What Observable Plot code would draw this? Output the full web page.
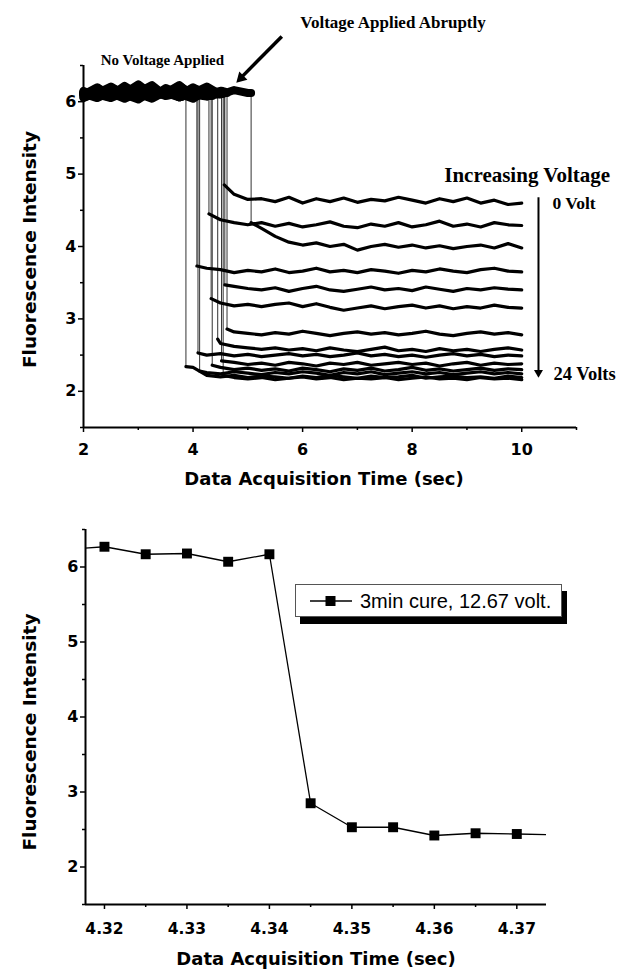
<!DOCTYPE html>
<html><head><meta charset="utf-8">
<script src="https://cdn.jsdelivr.net/npm/d3@7"></script>
<script src="https://cdn.jsdelivr.net/npm/@observablehq/plot@0.6"></script>
<style>
body{margin:0;background:#fff;}
#wrap{position:relative;width:621px;height:974px;overflow:hidden;background:#fff;}
#wrap > svg{display:block;overflow:visible;position:relative;}
.legend{position:absolute;left:295px;top:584px;width:267px;height:33px;border:1px solid #555;background:#fff;box-shadow:5px 7px 0 #000;box-sizing:border-box;}
.legend svg{position:absolute;left:0;top:0;}
.legend span{position:absolute;left:64px;top:5px;font-family:"Liberation Sans",Arial,sans-serif;font-size:20px;line-height:22px;color:#000;white-space:nowrap;}
</style></head><body><div id="wrap"></div>
<script>
// ---------- top chart data ----------
const gridTimes = [2,2.25,2.5,2.75,3,3.25,3.5,3.75,4,4.25,4.5,4.75,5,5.25,5.5,5.75,6,6.25,6.5,6.75,7,7.25,7.5,7.75,8,8.25,8.5,8.75,9,9.25,9.5,9.75,10];
const dropTimes  = [4.57,4.29,5.06,4.07,4.58,4.33,4.62,4.45,4.09,4.52,4.35,4.12,3.87,4.55];
const dropValues = [4.85,4.45,4.33,3.73,3.47,3.28,2.86,2.72,2.53,2.42,2.36,2.28,2.34,2.22];
const trace01 = [6.12,6.08,6.2,6.1,6.05,6.18,6.09,6.22,6.1,6.07,6.14,4.72,4.65,4.66,4.62,4.68,4.6,4.66,4.62,4.67,4.61,4.65,4.63,4.68,4.64,4.6,4.66,4.62,4.67,4.6,4.64,4.58,4.6];
const trace02 = [6.05,6.14,6.09,6.22,6.1,6.06,6.19,6.11,6.04,6.16,4.37,4.33,4.3,4.33,4.28,4.32,4.27,4.3,4.34,4.28,4.26,4.31,4.28,4.33,4.27,4.3,4.35,4.28,4.31,4.27,4.33,4.3,4.29];
const trace03 = [6.1,6.2,6.08,6.12,6.24,6.1,6.14,6.06,6.12,6.21,6.1,6.16,6.12,4.25,4.14,4.06,4.02,4.05,4.0,4.03,3.95,4.0,4.03,3.99,4.02,3.98,4.01,3.97,4.0,4.02,3.98,4.04,3.98];
const trace04 = [6.15,6.07,6.12,6.04,6.13,6.23,6.08,6.11,6.17,3.7,3.68,3.64,3.67,3.65,3.69,3.64,3.66,3.7,3.65,3.67,3.64,3.68,3.66,3.63,3.67,3.65,3.69,3.66,3.64,3.68,3.7,3.66,3.65];
const trace05 = [6.08,6.12,6.21,6.1,6.03,6.15,6.12,6.09,6.2,6.1,6.13,3.45,3.42,3.4,3.43,3.38,3.42,3.45,3.4,3.38,3.41,3.44,3.4,3.42,3.39,3.44,3.41,3.38,3.42,3.4,3.43,3.41,3.4];
const trace06 = [6.11,6.05,6.14,6.09,6.19,6.08,6.12,6.23,6.07,6.13,3.22,3.18,3.2,3.17,3.2,3.22,3.17,3.21,3.16,3.12,3.15,3.18,3.14,3.17,3.19,3.15,3.18,3.14,3.17,3.15,3.19,3.16,3.15];
const trace07 = [6.13,6.1,6.06,6.2,6.11,6.04,6.14,6.1,6.18,6.09,6.12,2.82,2.8,2.78,2.81,2.79,2.83,2.8,2.77,2.8,2.82,2.79,2.81,2.78,2.8,2.83,2.79,2.77,2.8,2.82,2.79,2.81,2.78];
const trace08 = [6.09,6.15,6.11,6.07,6.14,6.1,6.17,6.06,6.12,6.1,2.66,2.62,2.6,2.58,2.6,2.57,2.59,2.56,2.6,2.57,2.55,2.58,2.61,2.56,2.58,2.55,2.59,2.56,2.58,2.55,2.58,2.6,2.57];
const trace09 = [6.12,6.08,6.16,6.1,6.07,6.13,6.1,6.15,6.09,2.5,2.52,2.49,2.51,2.48,2.5,2.52,2.49,2.51,2.48,2.5,2.53,2.49,2.51,2.48,2.5,2.47,2.5,2.52,2.49,2.51,2.48,2.5,2.49];
const trace10 = [6.1,6.14,6.07,6.12,6.09,6.16,6.11,6.08,6.13,6.1,6.15,2.4,2.37,2.39,2.36,2.4,2.38,2.35,2.39,2.37,2.4,2.36,2.38,2.4,2.37,2.39,2.35,2.38,2.4,2.36,2.39,2.37,2.38];
const trace11 = [6.06,6.11,6.14,6.09,6.12,6.07,6.15,6.1,6.13,6.08,2.33,2.3,2.32,2.29,2.31,2.28,2.32,2.3,2.27,2.31,2.29,2.32,2.28,2.3,2.33,2.29,2.31,2.28,2.3,2.32,2.29,2.31,2.3];
const trace12 = [6.14,6.1,6.05,6.13,6.17,6.09,6.12,6.06,6.11,2.26,2.24,2.27,2.25,2.23,2.26,2.24,2.27,2.25,2.22,2.26,2.24,2.27,2.23,2.25,2.27,2.24,2.26,2.23,2.25,2.27,2.24,2.26,2.24];
const trace13 = [6.1,6.13,6.08,6.15,6.11,6.06,6.14,6.1,2.33,2.22,2.2,2.22,2.19,2.21,2.2,2.18,2.21,2.19,2.22,2.2,2.18,2.21,2.19,2.2,2.22,2.18,2.2,2.21,2.19,2.2,2.18,2.21,2.19];
const trace14 = [6.12,6.07,6.11,6.16,6.1,6.13,6.08,6.12,6.15,6.09,6.11,2.19,2.17,2.19,2.16,2.18,2.2,2.17,2.19,2.16,2.18,2.17,2.19,2.16,2.18,2.2,2.17,2.18,2.16,2.19,2.17,2.18,2.16];
const traces = [trace01,trace02,trace03,trace04,trace05,trace06,trace07,trace08,trace09,trace10,trace11,trace12,trace13,trace14];

const topYTicks = [2,3,4,5,6];
const topYMinor = [1.5,2.5,3.5,4.5,5.5,6.5];
const topXTicks = [2,4,6,8,10];
const topXMinor = [3,5,7,9,11];

// ---------- bottom chart data ----------
const zoomTimes  = [4.315,4.32,4.325,4.33,4.335,4.34,4.345,4.35,4.355,4.36,4.365,4.37,4.375];
const zoomValues = [6.23,6.27,6.17,6.18,6.07,6.17,2.85,2.53,2.53,2.42,2.45,2.44,2.43];
const zoomXTicks = [4.32,4.33,4.34,4.35,4.36,4.37];
const zoomXMinor = [4.325,4.335,4.345,4.355,4.365];
const zoomYTicks = [2,3,4,5,6];
const zoomYMinor = [1.5,2.5,3.5,4.5,5.5,6.5];
const legendLabel = "3min cure, 12.67 volt.";

// ---------- build rows ----------
const preRows = [], postRows = [], dropRows = [];
traces.forEach((vals, i) => {
  const td = dropTimes[i];
  let lastPre = vals[0];
  gridTimes.forEach((t, j) => { if (t < td) { preRows.push({trace: i, t, v: vals[j]}); lastPre = vals[j]; } });
  preRows.push({trace: i, t: td, v: lastPre});
  postRows.push({trace: i, t: td, v: dropValues[i]});
  gridTimes.forEach((t, j) => { if (t > td) postRows.push({trace: i, t, v: vals[j]}); });
  dropRows.push({t: td, v1: lastPre, v2: dropValues[i]});
});

const sansB = "DejaVu Sans";
const serif = "Liberation Serif";
const intFmt = d3.format("d");
const wrap = document.getElementById("wrap");

const topChart = Plot.plot({
  width: 621, height: 490,
  marginLeft: 83, marginRight: 45, marginTop: 65, marginBottom: 63,
  x: {domain: [2, 11], label: null},
  y: {domain: [1.5, 6.5], label: null},
  style: {background: "transparent", color: "#000", fontFamily: sansB, overflow: "visible"},
  marks: [
    Plot.ruleX(dropRows, {x: "t", y1: "v1", y2: "v2", stroke: "#333", strokeWidth: 1}),
    Plot.line(preRows, {x: "t", y: "v", z: "trace", stroke: "#000", strokeWidth: 8}),
    Plot.line(postRows, {x: "t", y: "v", z: "trace", stroke: "#000", strokeWidth: 3.2}),
    Plot.ruleX([2], {stroke: "#000", strokeWidth: 2}),
    Plot.ruleY([1.5], {stroke: "#000", strokeWidth: 2}),
    Plot.axisY(topYTicks, {tickSize: 5, tickPadding: 2, tickFormat: intFmt, fontSize: 16, fontWeight: "bold", fontFamily: sansB, strokeWidth: 1.5, label: null}),
    Plot.axisY(topYMinor, {tickSize: 3, tickFormat: () => "", strokeWidth: 1.5, label: null}),
    Plot.axisX(topXTicks, {tickSize: 5, tickPadding: 11, tickFormat: intFmt, fontSize: 16, fontWeight: "bold", fontFamily: sansB, strokeWidth: 1.5, label: null}),
    Plot.axisX(topXMinor, {tickSize: 3, tickFormat: () => "", strokeWidth: 1.5, label: null}),
    Plot.text(["Data Acquisition Time (sec)"], {frameAnchor: "bottom", textAnchor: "middle", dx: -6, dy: 57, fontSize: 18, fontWeight: "bold", fontFamily: sansB}),
    Plot.text(["Fluorescence Intensity"], {frameAnchor: "left", textAnchor: "middle", rotate: -90, dx: -53, dy: 3, fontSize: 18.5, fontWeight: "bold", fontFamily: sansB}),
    // annotations
    Plot.text(["Voltage Applied Abruptly"], {x: 7.65, y: 7.09, fontSize: 17, fontWeight: "bold", fontFamily: serif}),
    Plot.text(["No Voltage Applied"], {x: 3.44, y: 6.57, fontSize: 15, fontWeight: "bold", fontFamily: serif}),
    Plot.text(["Increasing Voltage"], {x: 10.1, y: 4.98, fontSize: 21, fontWeight: "bold", fontFamily: serif}),
    Plot.text(["0 Volt"], {x: 10.56, y: 4.6, textAnchor: "start", fontSize: 17.5, fontWeight: "bold", fontFamily: serif}),
    Plot.text(["24 Volts"], {x: 10.58, y: 2.24, textAnchor: "start", fontSize: 18.5, fontWeight: "bold", fontFamily: serif}),
    Plot.link([0], {x1: 5.62, y1: 6.9, x2: 4.9, y2: 6.35, stroke: "#000", strokeWidth: 3.5}),
    Plot.dot([0], {x: 4.875, y: 6.327, symbol: "triangle2", r: 5.5, fill: "#000", stroke: null, rotate: 225}),
    Plot.link([0], {x1: 10.306, y1: 4.68, x2: 10.306, y2: 2.28, stroke: "#000", strokeWidth: 2}),
    Plot.dot([0], {x: 10.306, y: 2.26, symbol: "triangle2", r: 4.3, fill: "#000", stroke: null, rotate: 180})
  ]
});
wrap.appendChild(topChart);

const zoomRows = zoomTimes.map((t, i) => ({t, v: zoomValues[i]}));
const zoomDomain = [4.3177, 4.3736];
const bottomChart = Plot.plot({
  width: 621, height: 484,
  marginLeft: 85, marginRight: 75, marginTop: 39, marginBottom: 70,
  x: {domain: zoomDomain, label: null},
  y: {domain: [1.5, 6.5], label: null},
  style: {background: "transparent", color: "#000", fontFamily: sansB, overflow: "visible"},
  marks: [
    Plot.line(zoomRows, {x: "t", y: "v", stroke: "#000", strokeWidth: 1.3, clip: true}),
    Plot.dot(zoomRows, {x: "t", y: "v", symbol: "square", r: 5.6, fill: "#000", stroke: null, clip: true}),
    Plot.ruleX([zoomDomain[0]], {stroke: "#000", strokeWidth: 2}),
    Plot.ruleY([1.5], {stroke: "#000", strokeWidth: 2}),
    Plot.axisY(zoomYTicks, {tickSize: 5, tickPadding: 2, tickFormat: intFmt, fontSize: 16, fontWeight: "bold", fontFamily: sansB, strokeWidth: 1.5, label: null}),
    Plot.axisY(zoomYMinor, {tickSize: 3, tickFormat: () => "", strokeWidth: 1.5, label: null}),
    Plot.axisX(zoomXTicks, {tickSize: 5, tickPadding: 13, tickFormat: d3.format(".2f"), fontSize: 15.5, fontWeight: "bold", fontFamily: sansB, strokeWidth: 1.5, label: null}),
    Plot.axisX(zoomXMinor, {tickSize: 3, tickFormat: () => "", strokeWidth: 1.5, label: null}),
    Plot.text(["Data Acquisition Time (sec)"], {frameAnchor: "bottom", textAnchor: "middle", dx: 0, dy: 60, fontSize: 18, fontWeight: "bold", fontFamily: sansB}),
    Plot.text(["Fluorescence Intensity"], {frameAnchor: "left", textAnchor: "middle", rotate: -90, dx: -55, dy: 15, fontSize: 18.5, fontWeight: "bold", fontFamily: sansB})
  ]
});
wrap.appendChild(bottomChart);

// legend (HTML overlay)
const leg = document.createElement("div");
leg.className = "legend";
leg.innerHTML = '<svg width="64" height="31"><line x1="14" y1="16" x2="56" y2="16" stroke="#000" stroke-width="1.3"/><rect x="29.5" y="11" width="10" height="10" fill="#000"/></svg><span></span>';
leg.querySelector("span").textContent = legendLabel;
wrap.appendChild(leg);
</script></body></html>
